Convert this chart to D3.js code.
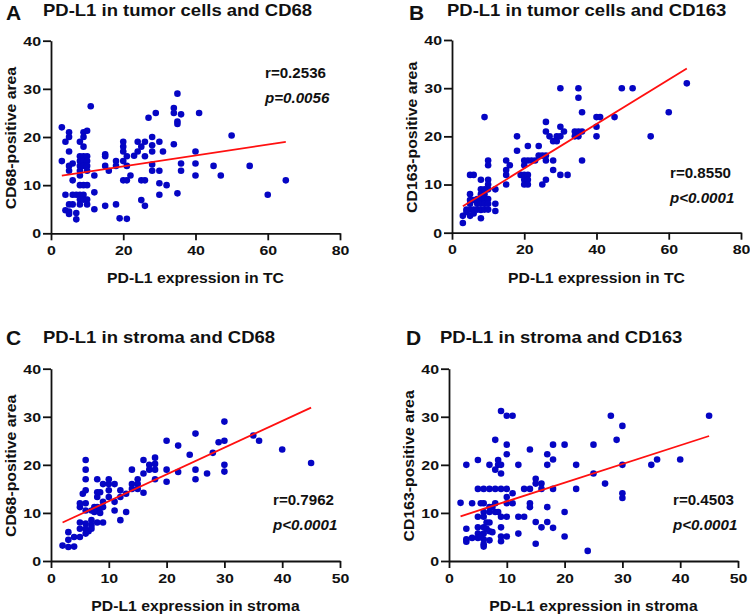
<!DOCTYPE html>
<html lang="en">
<head>
    <meta charset="UTF-8">
    <title>PD-L1 vs CD68 / CD163 correlations</title>
    <script src="https://d3js.org/d3.v7.min.js"></script>
    <style>
        body { margin: 0; background: #fff; }
        text { font-family: "Liberation Sans", Arial, sans-serif; font-weight: bold; fill: #111; }
        .tick text { font-size: 13.5px; }
        .domain, .tick line { stroke: #111; stroke-width: 1.8; }
    </style>
</head>
<body>
    <div id="chart"></div>
    <script>
        // PD-L1 in tumor cells vs CD68
        const tcCd68 = [
            [3,22],[3,15],[4,19],[5,21],[5,20],[5,17],[5,14],[5,13],[6,14.5],[4,8],[4,4.8],[5,4.5],[5,4],[5,6],[6,6],[6,8],[6,11],[7,8],[7,4.2],[7,2.9],
            [8,19],[8,16],[8,15],[8,14],[8,13],[8,12],[8,10],[8,8],[8,7],[8,6],
            [9,21],[9,20],[9,18],[9,16],[9,15],[9,14],[9,10],[9,8],[9,7],
            [10,21.3],[10,16],[10,15],[10,14],[10,13],[10,10],[10,7],[10,6],
            [11,26.4],[12,12],[12,8.5],[12,5],
            [15,16.4],[15,16],[15,14],[15,5.7],[16,13],[18,15],[18,14],[18,6],[19,3.1],
            [20,19],[20,18],[20,17],[20,15],[20,11],[21,3],[21,16],[21,14],[21,11],[22,12],[23,16.1],[24,19],[24,17],[25,18],[25,11],[25,6.9],
            [26,19],[26,16],[26,11],[26,5.7],[27,24],[28,20],[28,18.3],[28,17],[28,14.3],[28,13],[29,25],[30,19],[30,13],[30,10.4],[30,8],[31,17],[32,10],
            [34,26],[34,25],[34,18.5],[35,29],[35,23.2],[35,22.7],[35,8.3],[36,24.7],[36,14.5],[36,13],
            [41,25],[40,17],[40,14.5],[40,12],[45,14],[47,12],[50,20.3],[55,14],[60,8],[65,11]
        ];
        // PD-L1 in tumor cells vs CD163
        const tcCd163 = [
            [3,3.5],[3,2],[4,4.8],[4,4.3],[5,12],[6,12],[5,8],[5,6.8],[5,6],[5,4.8],[5,3.5],[6,6.8],[6,4.8],[6,4],[7,6],[7,4.8],[7,7],
            [8,11],[8,9],[8,8],[8,7],[8,6],[8,4.7],[8,3],
            [9,24],[9,9],[9,8],[9,7],[9,6],[9,4.8],
            [10,15],[10,14],[10,11],[10,10],[10,9],[10,7],[10,6],[10,4.8],
            [12,9],[12,6],[12,4.5],
            [15,15],[15,13],[15,12],[15,10],[16,14],[18,20],[18,17],[19,12],
            [20,15],[20,14],[20,12],[20,11],[20,10],[21,18],[21,15],[21,12],[21,11],[21,10],[22,15],[23,15],[24,18],[24,16],[25,16],[25,10],
            [26,23],[26,21],[26,16],[26,15],[26,11],[27,20],[28,19],[28,15],[28,13],[29,20],[29,19],
            [30,30],[30,22],[30,20],[30,12],[31,21],[32,12],[34,21],[34,20],[35,30],[35,28],[35,21],[35,20],[36,25],[36,21],[36,15],
            [40,24],[40,22],[40,20],[41,24],[45,24],[47,30],[50,30],[55,20],[60,25],[65,31]
        ];
        // PD-L1 in stroma vs CD68
        const stCd68 = [
            [2,3.2],[3,2.9],[3,4.4],[3,6],[4,3],[4,5],[5,5],[5,6.7],[5,8],[5,11.2],[5,12],[5.5,14],
            [6,21],[6,19],[6,17],[6,14.7],[6,12],[6,10.5],[6,7.8],[6,6.7],[6,5.7],
            [6.5,6.2],[7,10.5],[7,8.5],[7,7.4],[7,6.7],[7.5,11.2],[7.5,10.2],
            [8,17],[8,14.3],[8,13.3],[8,11.2],[8,10.5],[8,8],[8.5,14.3],[8.5,11],[8.5,10],
            [9,16],[9,12.3],[9,11.2],[9,8],[10,17],[10,16],[10,14.7],[10,13.3],
            [11,16],[11,12.3],[11,10.5],[12,14.7],[12,13.3],[12,8.5],[13,10.2],[13,14],
            [14,19],[14,16],[14,15],[15,17],[15,16],[15,15],[16,21],[16,18.2],[16,14.2],[17,20],[17,19],[18,21.5],[18,20.2],[18,19],[18,17],
            [20,25],[20,19],[20,16.5],[22,24],[22,18.5],[24,22.1],[25,26.5],[25,19],[25,17],[27,18.2],[28,22.5],[29,24.7],
            [30,29],[30,25],[30,20],[30,18.6],[35,26.1],[36,25],[40,23.2],[45,20.4]
        ];
        // PD-L1 in stroma vs CD163
        const stCd163 = [
            [2,12.1],[3,20],[3,6.7],[3,4.5],[3,4],[4,12],[4,4.8],[5,21],[5,15],[5,9.2],[5,7],[5,5.7],[5,4.8],
            [6,15],[6,12],[6,10.2],[6,9.2],[6,7],[6,5.7],[6,4.5],[6,3.5],[6,3],[5.5,12],[5.5,5],[6.5,8],[6.5,6.7],
            [7,20],[7,15],[7,11.2],[7,10.2],[7,8],[7,6.2],[7,4.3],[7.5,11.2],[7.5,6],
            [8,25.2],[8,19],[8,15],[8,12],[8,10.2],[8.5,21],[8.5,20],[8.5,10.2],
            [9,31.2],[9,20],[9,18.2],[9,15],[9,9.2],[9,7],[9,5.1],[9,4.1],
            [10,30.2],[10,24.2],[10,22.2],[10,15],[10,13.3],[10,12],[10,9.2],[10,5.1],
            [11,30.2],[11,14.1],[11,12],[12,20],[12,9.2],[12,5.7],[13,15],[13,9.2],
            [14,23.2],[14,15],[14,12],[14,11.2],[15,17.1],[15,16.1],[15,8.1],[15,3.6],[16,16.1],[16,15],[16,7],
            [17,22.2],[17,20],[17,11.2],[17,8.1],[18,24.2],[18,21.1],[18,15],[18,6.9],
            [20,24.2],[20,10.2],[20,5.1],[22,20],[22,15],[24,2.1],[25,24.2],[25,18.2],[27,16.1],[28,30.2],[29,25.2],
            [30,28.1],[30,20],[30,14.1],[30,13.1],[35,20],[36,21.1],[40,21.1],[45,30.2]
        ];

        // fitted lines (end points)
        const fitLines = [
            [[3, 12.0], [65, 19.0]],
            [[3, 5.5], [65, 34.1]],
            [[2, 8.0], [45, 31.9]],
            [[2, 9.3], [45, 26.0]]
        ];
        const letters = ["A", "B", "C", "D"];
        const titles = [
            "PD-L1 in tumor cells and CD68",
            "PD-L1 in tumor cells and CD163",
            "PD-L1 in stroma and CD68",
            "PD-L1 in stroma and CD163"
        ];
        const xTitles = ["PD-L1 expression in TC", "PD-L1 expression in TC",
            "PD-L1 expression in stroma", "PD-L1 expression in stroma"];
        const yTitles = ["CD68-positive area", "CD163-positive area",
            "CD68-positive area", "CD163-positive area"];
        const rLabels = ["r=0.2536", "r=0.8550", "r=0.7962", "r=0.4503"];
        const pLabels = ["p=0.0056", "p<0.0001", "p<0.0001", "p<0.0001"];
        const xMax = [80, 80, 50, 50];
        const yMax = 40;

        const width = 750, height = 614;

        // layout for each panel (plot box, title and stat text spots)
        const panels = [
            { left: 51,  right: 340, top: 40.7,  bottom: 233.3, lx: 6,   ly: 20,  tx: 43,  ty: 16,  ytx: 16,  sx: 265, sy: 78 },
            { left: 452, right: 741, top: 40,    bottom: 232.7, lx: 409, ly: 20,  tx: 447, ty: 16,  ytx: 417, sx: 670, sy: 178 },
            { left: 51,  right: 340, top: 368.7, bottom: 561,   lx: 6,   ly: 345, tx: 43,  ty: 343, ytx: 16,  sx: 273, sy: 505 },
            { left: 449, right: 738, top: 368.7, bottom: 561,   lx: 406, ly: 345, tx: 440, ty: 343, ytx: 414, sx: 673, sy: 505 }
        ];
        const allData = [tcCd68, tcCd163, stCd68, stCd163];

        // the figure's lettering is a bit wider than plain Arial bold
        function widen(sel, k) {
            sel.each(function () {
                const w = this.getComputedTextLength();
                d3.select(this).attr("textLength", w * k).attr("lengthAdjust", "spacingAndGlyphs");
            });
        }

        const svg = d3.select("#chart").append("svg")
            .attr("width", width)
            .attr("height", height);

        panels.forEach((p, i) => {
            const x = d3.scaleLinear().domain([0, xMax[i]]).range([p.left, p.right]);
            const y = d3.scaleLinear().domain([0, yMax]).range([p.bottom, p.top]);
            const g = svg.append("g");

            const gx = g.append("g")
                .attr("transform", `translate(0,${p.bottom})`)
                .call(d3.axisBottom(x).ticks(5).tickSize(7).tickPadding(5).tickSizeOuter(0));

            const gy = g.append("g")
                .attr("transform", `translate(${p.left},0)`)
                .call(d3.axisLeft(y).tickValues([0, 10, 20, 30, 40]).tickSize(8).tickPadding(2).tickSizeOuter(0));

            widen(gx.selectAll(".tick text"), 1.18);
            widen(gy.selectAll(".tick text"), 1.18);

            g.selectAll(".dot")
                .data(allData[i])
                .enter()
                .append("circle")
                .attr("cx", d => x(d[0]))
                .attr("cy", d => y(d[1]))
                .attr("r", 3.3)
                .attr("fill", "#0505c4");

            g.append("path")
                .datum(fitLines[i])
                .attr("d", d3.line().x(d => x(d[0])).y(d => y(d[1])))
                .attr("stroke", "#ff1010")
                .attr("stroke-width", 1.8)
                .attr("fill", "none");

            // panel letter + title
            g.append("text")
                .attr("x", p.lx).attr("y", p.ly)
                .attr("font-size", 21)
                .text(letters[i]);
            g.append("text")
                .attr("x", p.tx).attr("y", p.ty)
                .attr("font-size", 16.5)
                .text(titles[i])
                .call(widen, 1.12);

            // axis titles
            g.append("text")
                .attr("x", (p.left + p.right) / 2)
                .attr("y", p.bottom + 50)
                .attr("text-anchor", "middle")
                .attr("font-size", 15)
                .text(xTitles[i])
                .call(widen, 1.05);
            g.append("text")
                .attr("transform", `translate(${p.ytx},${(p.top + p.bottom) / 2 + 1}) rotate(-90)`)
                .attr("text-anchor", "middle")
                .attr("font-size", 14.5)
                .text(yTitles[i])
                .call(widen, 1.09);

            // correlation stats
            g.append("text")
                .attr("x", p.sx).attr("y", p.sy)
                .attr("font-size", 14)
                .text(rLabels[i])
                .call(widen, 1.08);
            g.append("text")
                .attr("x", p.sx).attr("y", p.sy + 25)
                .attr("font-size", 14)
                .attr("font-style", "italic")
                .text(pLabels[i])
                .call(widen, 1.08);
        });
    </script>
</body>
</html>
